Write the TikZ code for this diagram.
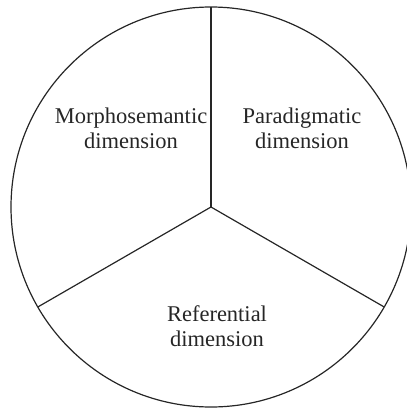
\documentclass[tikz,border=0pt]{standalone}
\usepackage{fontspec}
\setmainfont{Liberation Serif}
\usetikzlibrary{calc}
\begin{document}
\begin{tikzpicture}[x=1pt,y=1pt,
  rim/.style={draw=black!85, line width=1.2pt},
  spoke/.style={draw=black!85, line width=1.2pt},
  lab/.style={align=center, inner sep=0pt, anchor=base, text=black!85,
    font=\fontsize{22.5}{25}\selectfont}]
\useasboundingbox (0,0) rectangle (407,-410);
\coordinate (c) at (211,-207);
\coordinate (top) at (211,-7);
\coordinate (bl) at ($(c)+(210:200)$);
\coordinate (br) at ($(c)+(330:200)$);
\draw[rim] (c) circle (200);
\draw[spoke, line width=1.8pt] (c) -- (top);
\draw[spoke] (c) -- (bl);
\draw[spoke] (c) -- (br);
\node[lab] (m) at (131,-148) {Morphosemantic\\dimension};
\node[lab] (p) at (302,-148) {Paradigmatic\\dimension};
\node[lab] (r) at (217,-346) {Referential\\dimension};
\end{tikzpicture}
\end{document}
